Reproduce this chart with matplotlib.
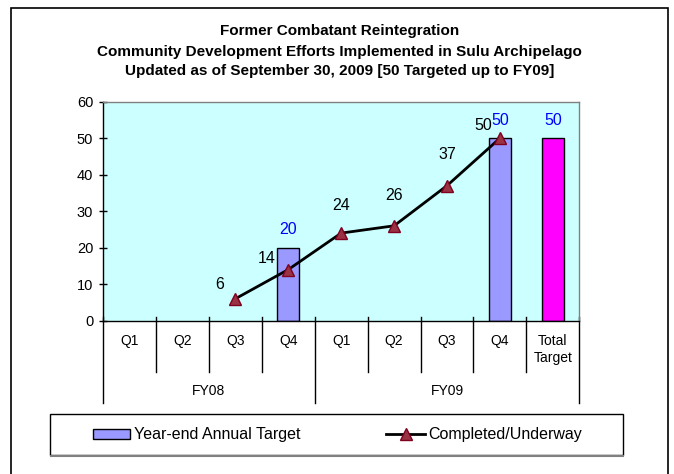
import matplotlib
matplotlib.use("Agg")
import matplotlib.pyplot as plt
from matplotlib.patches import Rectangle
from matplotlib.lines import Line2D
import matplotlib.transforms as mtransforms

plt.rcParams['font.family'] = ['Liberation Sans', 'DejaVu Sans']

# ---- data ----
quarters = ["Q1", "Q2", "Q3", "Q4", "Q1", "Q2", "Q3", "Q4", "Total\nTarget"]
years = ["FY08", "FY09"]
year_spans = [(0, 4), (4, 9)]
bar_values = [None, None, None, 20, None, None, None, 50, None]
total_values = [None, None, None, None, None, None, None, None, 50]
line_values = [None, None, 6, 14, 24, 26, 37, 50, None]
yticks = [0, 10, 20, 30, 40, 50, 60]

W, H = 674, 474
fig = plt.figure(figsize=(W / 100, H / 100), dpi=100)

def fy(px):
    return 1 - px / H

# outer border
fig.patches.append(Rectangle((11 / W, -0.05), (668 - 11) / W, 1.05 - 8 / H,
                             transform=fig.transFigure, fill=False,
                             edgecolor='black', linewidth=1.2))

left, right, top, bottom = 103, 579.3, 101.7, 320.7
ax = fig.add_axes([left / W, 1 - bottom / H, (right - left) / W, (bottom - top) / H])
ax.set_facecolor('#CCFFFF')

n = len(quarters)
xs = list(range(n))
bw = 0.42

bx = [x for x, v in zip(xs, bar_values) if v is not None]
bv = [v for v in bar_values if v is not None]
ax.bar(bx, bv, width=bw, color='#9999FF', edgecolor='black', linewidth=1, zorder=2)
tx = [x for x, v in zip(xs, total_values) if v is not None]
tv = [v for v in total_values if v is not None]
ax.bar(tx, tv, width=bw, color='#FF00FF', edgecolor='black', linewidth=1, zorder=2)

mcol, mecol = '#993344', '#800020'
lx = [x for x, v in zip(xs, line_values) if v is not None]
lv = [v for v in line_values if v is not None]
ax.plot(lx, lv, color='black', linewidth=2, zorder=3)
ax.plot(lx, lv, linestyle='none', marker='^', markersize=8.5,
        markerfacecolor=mcol, markeredgecolor=mecol, markeredgewidth=1, zorder=4)

# labels
line_offsets = {2: (-16, 14), 3: (-22, 11), 4: (0, 28), 5: (0, 30), 6: (0, 31), 7: (-17, 13)}
for x, v in zip(lx, lv):
    dx, dy = line_offsets.get(x, (0, 28))
    ax.annotate(str(v), (x, v), xytext=(dx, dy), textcoords='offset pixels',
                ha='center', va='center', fontsize=11.5, color='black', zorder=5)
for x, v in list(zip(bx, bv)) + list(zip(tx, tv)):
    ax.annotate(str(v), (x, v), xytext=(0, 18), textcoords='offset pixels',
                ha='center', va='center', fontsize=11.5, color='#0000FF', zorder=5)

ax.set_xlim(-0.5, n - 0.5)
ax.set_ylim(0, 60)
ax.set_yticks(yticks)
ax.set_yticklabels([str(t) for t in yticks], fontsize=10.5)
ax.tick_params(axis='y', direction='inout', length=6, width=1, pad=4)
ax.set_xticks([])

for s in ['top', 'right']:
    ax.spines[s].set_color('#808080')
    ax.spines[s].set_linewidth(1)
ax.spines['left'].set_color('black')
ax.spines['bottom'].set_color('black')
ax.spines['left'].set_linewidth(1)
ax.spines['bottom'].set_linewidth(1)

# multi-level category axis
trans = mtransforms.blended_transform_factory(ax.transData, fig.transFigure)
boundaries = [i - 0.5 for i in range(n + 1)]
long_b = set([s for s, e in year_spans] + [e for s, e in year_spans])
for i, b in enumerate(boundaries):
    y_end = 403 if i in long_b else 372
    ax.add_line(Line2D([b, b], [fy(317), fy(y_end)], transform=trans, color='black',
                       linewidth=1, clip_on=False))
for x, q in zip(xs, quarters):
    ax.text(x, fy(334), q, transform=trans, ha='center', va='top', fontsize=10,
            linespacing=1.25)
for (s, e), yr in zip(year_spans, years):
    ax.text((s + e - 1) / 2, fy(391), yr, transform=trans, ha='center', va='center',
            fontsize=10)

# title
title_lines = ["Former Combatant Reintegration",
               "Community Development Efforts Implemented in Sulu Archipelago",
               "Updated as of September 30, 2009 [50 Targeted up to FY09]"]
title_y = [31.5, 51.5, 71]
for t, ty in zip(title_lines, title_y):
    fig.text(0.5 * (11 + 668) / W, fy(ty), t, ha='center', va='center',
             fontsize=11, fontweight='bold')

# legend box
fig.patches.append(Rectangle((50 / W, fy(455)), (623 - 50) / W, (455 - 414) / H,
                             transform=fig.transFigure, fill=False,
                             edgecolor='black', linewidth=1))
fig.lines.append(Line2D([51 / W, 623 / W], [fy(455.5), fy(455.5)], transform=fig.transFigure,
                        color='#808080', linewidth=1.5))
fig.patches.append(Rectangle((92.7 / W, fy(439)), (130 - 92.7) / W, 10 / H,
                             transform=fig.transFigure, facecolor='#9999FF',
                             edgecolor='black', linewidth=1))
fig.text(134 / W, fy(434), "Year-end Annual Target", ha='left', va='center', fontsize=11.5)
fig.lines.append(Line2D([385.7 / W, 425 / W], [fy(434), fy(434)], transform=fig.transFigure,
                        color='black', linewidth=2))
fig.lines.append(Line2D([405.5 / W], [fy(434)], transform=fig.transFigure, marker='^',
                        markersize=8.5, markerfacecolor=mcol, markeredgecolor=mecol,
                        linestyle='none'))
fig.text(428 / W, fy(434), "Completed/Underway", ha='left', va='center', fontsize=11.5)

fig.savefig("out.png", dpi=100)
